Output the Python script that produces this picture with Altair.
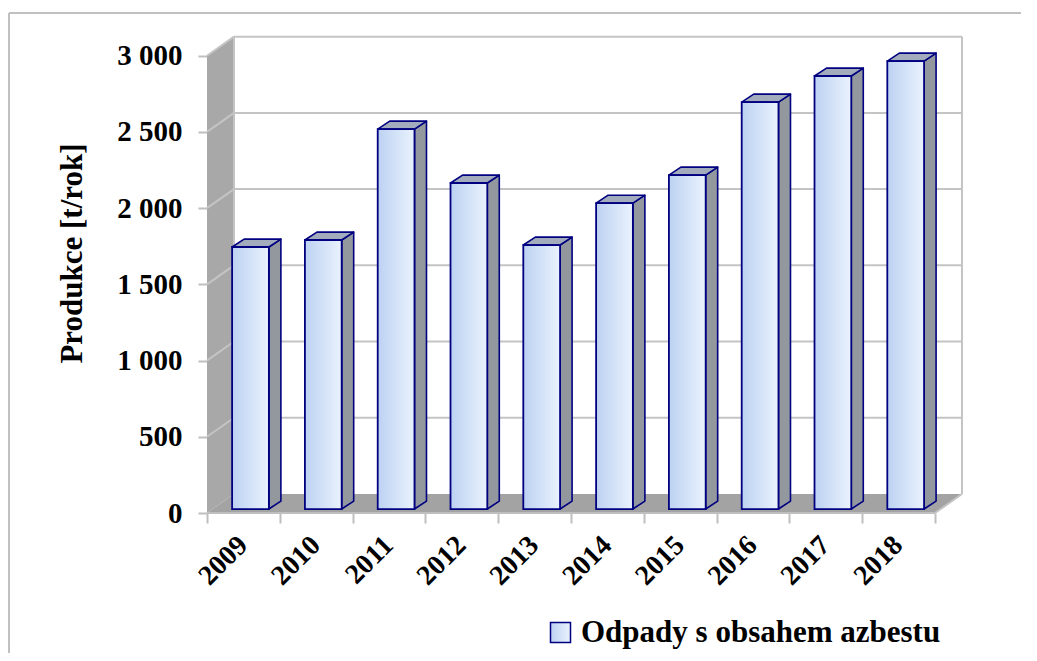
import altair as alt
import pandas as pd

# ---- data ----
years = ["2009", "2010", "2011", "2012", "2013", "2014", "2015", "2016", "2017", "2018"]
values = [1719, 1765, 2493, 2139, 1732, 2007, 2191, 2670, 2841, 2939]
y_ticks = [0, 500, 1000, 1500, 2000, 2500, 3000]
series_name = "Odpady s obsahem azbestu"
y_title = "Produkce [t/rok]"

# ---- pseudo-3D geometry (data units) ----
N = len(years)
W, H = 755, 478
XMAX = 10.371          # category units across plot width
YMAX = 3136            # value units across plot height
WALL_DX = 0.371        # depth of walls (x, category units)
WALL_DY = 125          # depth of walls (y, value units)
BAR_L, BAR_R = 0.345, 0.85
BAR_DX, BAR_DY = 0.165, 52
BAR_BASE = 26
LABEL_Y = -185

FONT = "Liberation Serif"
NAVY = "#000080"
GRID = "#c4c4c4"

sx = alt.Scale(domain=[0, XMAX], nice=False, zero=False)
sy = alt.Scale(domain=[0, YMAX], nice=False, zero=False)

x_axis = alt.Axis(values=list(range(N + 1)), labels=False, domain=False, grid=False,
                  tickSize=10, tickWidth=2, tickColor="#bfbfbf", title=None)
y_axis = alt.Axis(values=y_ticks,
                  labelExpr="replace(format(datum.value, ','), ',', ' ')",
                  domain=False, grid=False, tickSize=9, tickWidth=2, tickColor="#bfbfbf",
                  labelFont=FONT, labelFontSize=29, labelFontWeight="bold", labelColor="black",
                  labelPadding=16,
                  title=y_title, titleFont=FONT, titleFontSize=31, titleFontWeight="bold",
                  titleColor="black", titleAngle=270, titleX=-126, titleY=218,
                  titleBaseline="alphabetic", titleAlign="center")


def X(f):
    return alt.X(f, type="quantitative", scale=sx, axis=x_axis)


def Y(f):
    return alt.Y(f, type="quantitative", scale=sy, axis=y_axis, title=y_title)


# walls / floor
left_wall = pd.DataFrame({"x": [0, WALL_DX], "lo": [0, WALL_DY], "hi": [3000, 3000 + WALL_DY]})
floor = pd.DataFrame({"x": [0, WALL_DX, N, XMAX],
                      "lo": [0, 0, 0, WALL_DY],
                      "hi": [0, WALL_DY, WALL_DY, WALL_DY]})
back_grid = pd.DataFrame({"x": [WALL_DX] * 6, "x2": [XMAX] * 6,
                          "y": [t + WALL_DY for t in y_ticks[1:]]})
back_edges = pd.DataFrame({"x": [XMAX, WALL_DX], "y": [WALL_DY, WALL_DY], "y2": [3000 + WALL_DY] * 2})
slants = []
for k, t in enumerate(y_ticks[1:]):
    slants += [{"g": k, "x": 0, "y": t}, {"g": k, "x": WALL_DX, "y": t + WALL_DY}]
slants += [{"g": 99, "x": N, "y": 0}, {"g": 99, "x": XMAX, "y": WALL_DY}]
slants = pd.DataFrame(slants)
front_edge = pd.DataFrame({"x": [0], "x2": [N], "y": [0]})

# bars
front, side, top = [], [], []
for i, (yr, v) in enumerate(zip(years, values)):
    L, R = i + BAR_L, i + BAR_R
    t = BAR_BASE + v
    front.append({"x": L, "x2": R, "y": BAR_BASE, "y2": t, "series": series_name, "year": yr, "value": v})
    side += [{"b": i, "x": R, "lo": BAR_BASE, "hi": t},
             {"b": i, "x": R + BAR_DX, "lo": BAR_BASE + BAR_DY, "hi": t + BAR_DY}]
    top += [{"b": i, "x": L, "lo": t, "hi": t},
            {"b": i, "x": L + BAR_DX, "lo": t, "hi": t + BAR_DY},
            {"b": i, "x": R, "lo": t, "hi": t + BAR_DY},
            {"b": i, "x": R + BAR_DX, "lo": t + BAR_DY, "hi": t + BAR_DY}]
front = pd.DataFrame(front)
side = pd.DataFrame(side)
top = pd.DataFrame(top)
labels = pd.DataFrame({"x": [i + 0.5 for i in range(N)], "y": [LABEL_Y] * N, "year": years})

layers = []
layers.append(alt.Chart(left_wall).mark_area(fill="#a8a8a8").encode(
    x=X("x"), y=Y("lo"), y2="hi"))
layers.append(alt.Chart(floor).mark_area(fill="#a3a3a3").encode(
    x=X("x"), y=Y("lo"), y2="hi"))
layers.append(alt.Chart(back_grid).mark_rule(color=GRID, strokeWidth=2).encode(
    x=X("x"), x2="x2", y=Y("y")))
layers.append(alt.Chart(back_edges).mark_rule(color=GRID, strokeWidth=2).encode(
    x=X("x"), y=Y("y"), y2="y2"))
layers.append(alt.Chart(slants).mark_line(color=GRID, strokeWidth=2).encode(
    x=X("x"), y=Y("y"), detail="g:N"))
layers.append(alt.Chart(front_edge).mark_rule(color="#bfbfbf", strokeWidth=2).encode(
    x=X("x"), x2="x2", y=Y("y")))
layers.append(alt.Chart(side).mark_area(fill="#93979e", stroke=NAVY, strokeWidth=1.6,
                                         strokeJoin="round").encode(
    x=X("x"), y=Y("lo"), y2="hi", detail="b:N"))
layers.append(alt.Chart(top).mark_area(fill="#a2acbd", stroke=NAVY, strokeWidth=1.6,
                                        strokeJoin="round").encode(
    x=X("x"), y=Y("lo"), y2="hi", detail="b:N"))
grad = alt.Gradient(gradient="linear", x1=0, y1=0, x2=1, y2=0,
                    stops=[alt.GradientStop(offset=0, color="#bcd2f2"),
                           alt.GradientStop(offset=1, color="#eaf2fd")])
layers.append(alt.Chart(front).mark_bar(fill=grad, strokeWidth=1.8).encode(
    x=X("x"), x2="x2", y=Y("y"), y2="y2",
    stroke=alt.Stroke("series:N", scale=alt.Scale(range=[NAVY]),
                      legend=alt.Legend(title=None, orient="none", legendX=338, legendY=582,
                                        symbolType="square", symbolSize=400,
                                        symbolFillColor="#c8daf4", symbolStrokeWidth=1.5,
                                        labelFont=FONT, labelFontSize=31, labelFontWeight="bold",
                                        labelColor="black", labelLimit=600, padding=0,
                                        labelOffset=5)),
    tooltip=["year", "value"]))
layers.append(alt.Chart(labels).mark_text(angle=315, align="right", baseline="middle",
                                           font=FONT, fontSize=28, fontWeight="bold",
                                           color="black").encode(
    x=X("x"), y=Y("y"), text="year"))

frame = pd.DataFrame({"k": [0]})
layers.append(alt.Chart(frame).mark_rule(color="#c0c0c0", strokeWidth=2).encode(
    x=alt.value(-198), x2=alt.value(814), y=alt.value(-22)))
layers.append(alt.Chart(frame).mark_rule(color="#c0c0c0", strokeWidth=2).encode(
    x=alt.value(-198), y=alt.value(-22), y2=alt.value(640)))

chart = alt.layer(*layers).properties(
    width=W, height=H,
    padding={"left": 199, "top": 27, "right": 67, "bottom": 140},
    autosize=alt.AutoSizeParams(type="none"),
    background="white",
).configure_view(stroke=None)

chart.save("out.html", embed_options={"renderer": "svg", "actions": False})
